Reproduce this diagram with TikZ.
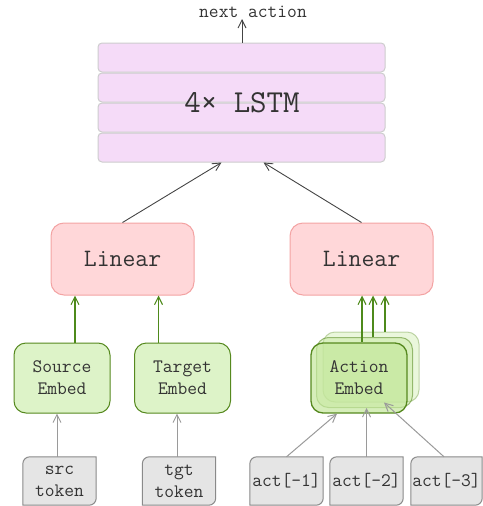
\documentclass[tikz,border=0pt]{standalone}
\usepackage{fontspec}
\usetikzlibrary{arrows.meta}
\pgfdeclarelayer{background}
\pgfsetlayers{background,main}

\definecolor{lstmfill}{HTML}{F5DBF8}
\definecolor{lstmline}{HTML}{CDCDCD}
\definecolor{linfill}{HTML}{FFD7D9}
\definecolor{linline}{HTML}{F3A3A3}
\definecolor{embfill}{HTML}{DDF3C8}
\definecolor{embline}{HTML}{56891F}
\definecolor{actfill}{HTML}{C4E79C}
\definecolor{tokfill}{HTML}{E5E5E5}
\definecolor{tokline}{HTML}{8A8A8A}
\definecolor{txtcol}{HTML}{333333}
\definecolor{greyarrow}{HTML}{9A9A9A}
\definecolor{greenarrow}{HTML}{4E8A1B}
\definecolor{darkarrow}{HTML}{444444}

\newcommand\fontlstm{\ttfamily\fontsize{32}{36}\selectfont}
\newcommand\fontlin{\ttfamily\fontsize{25}{28}\selectfont}
\newcommand\fontsmall{\ttfamily\fontsize{19}{22}\selectfont}

% token boxes: rounded top-left and bottom-right corners only
\newcommand\tokenframe[1]{%
  \begin{pgfonlayer}{background}
  \filldraw[tokframe] ([xshift=7pt]#1.north west) -- (#1.north east)
    -- ([yshift=7pt]#1.south east) arc[start angle=0,end angle=-90,radius=7pt]
    -- (#1.south west) -- ([yshift=-7pt]#1.north west)
    arc[start angle=180,end angle=90,radius=7pt] -- cycle;
  \end{pgfonlayer}}

\begin{document}
\begin{tikzpicture}[x=1pt,y=-1pt,
  every node/.style={text=txtcol, inner sep=0pt},
  lstmlayer/.style={draw=lstmline, fill=lstmfill, line width=1pt,
    rounded corners=4pt, minimum width=287pt, minimum height=29pt},
  linbox/.style={draw=linline, fill=linfill, line width=1pt,
    rounded corners=13pt, minimum width=143pt, minimum height=72pt, font=\fontlin},
  embbox/.style={draw=embline, fill=embfill, line width=1pt,
    rounded corners=12pt, minimum width=96pt, minimum height=70pt,
    align=center, font=\fontsmall},
  actbox/.style={draw=embline, fill=actfill, rounded corners=12pt,
    minimum width=96pt, minimum height=70pt, align=center, font=\fontsmall},
  tokbox/.style={minimum width=73pt, minimum height=48pt, align=center, font=\fontsmall},
  tokframe/.style={draw=tokline, fill=tokfill, line width=1pt},
  tipopen/.style={-{Straight Barb[length=8pt,width=8pt]}},
  greyconn/.style={tipopen, draw=greyarrow, line width=1pt},
  greenconn/.style={tipopen, draw=greenarrow, line width=1.1pt},
  darkconn/.style={tipopen, draw=darkarrow, line width=0.9pt}
]
\useasboundingbox (0,0) rectangle (482,506);

% stacked LSTM layers
\node[lstmlayer] (l1) at (241.5,57.5) {};
\node[lstmlayer] (l2) at (241.5,87.5) {};
\node[lstmlayer] (l3) at (241.5,117.5) {};
\node[lstmlayer] (l4) at (241.5,147.5) {};
\node[font=\fontlstm] (lstm) at (242,103) {4× LSTM};

% output
\node[font=\fontsmall, anchor=base] (next) at (253,17) {next action};
\coordinate (nexttip) at (242,19);
\draw[darkconn] (l1.north -| nexttip) -- (nexttip);

% linear projections
\node[linbox] (lin1) at (122.5,259) {Linear};
\node[linbox] (lin2) at (361.5,259) {Linear};
\draw[darkconn] (lin1.north) -- ([xshift=-20pt]l4.south);
\draw[darkconn] (lin2.north) -- ([xshift=22pt]l4.south);

% embeddings
\node[embbox] (srcemb) at (62,378) {Source\\Embed};
\node[embbox] (tgtemb) at (182.5,378) {Target\\Embed};

\node[actbox, draw opacity=0.35, fill opacity=0.35, line width=1pt] (ae3) at (371,367) {};
\node[actbox, draw opacity=0.55, fill opacity=0.45, line width=1pt] (ae2) at (364.5,372.5) {};
\node[actbox, fill opacity=0.7, text opacity=1, line width=1.3pt] (ae1) at (359,378) {Action\\Embed};

\draw[greenconn] ([xshift=13pt]srcemb.north) -- ([xshift=13pt]srcemb.north |- lin1.south);
\draw[greenconn] ([xshift=-24pt]tgtemb.north) -- ([xshift=-24pt]tgtemb.north |- lin1.south);
\draw[greenconn] ([xshift=3pt]ae1.north) -- ([xshift=3pt]ae1.north |- lin2.south);
\draw[greenconn] ([xshift=8.5pt]ae2.north) -- ([xshift=8.5pt]ae2.north |- lin2.south);
\draw[greenconn] ([xshift=14pt]ae3.north) -- ([xshift=14pt]ae3.north |- lin2.south);

% input tokens
\node[tokbox] (srctok) at (59.5,481) {src\\token};
\node[tokbox] (tgttok) at (179,481) {tgt\\token};
\node[tokbox] (act1) at (286.5,481) {act[-1]};
\node[tokbox] (act2) at (366.5,481) {act[-2]};
\node[tokbox, minimum width=71pt] (act3) at (446.5,481) {act[-3]};
\tokenframe{srctok}
\tokenframe{tgttok}
\tokenframe{act1}
\tokenframe{act2}
\tokenframe{act3}

\draw[greyconn] ([xshift=-2.5pt]srctok.north) -- ([xshift=-2.5pt]srctok.north |- srcemb.south);
\draw[greyconn] ([xshift=-2pt]tgttok.north) -- ([xshift=-2pt]tgttok.north |- tgtemb.south);
\draw[greyconn] (act1.north) -- ([xshift=-22pt]ae1.south);
\draw[greyconn] (act2.north) -- (act2.north |- ae2.south);
\draw[greyconn] ([xshift=-2.5pt]act3.north) -- ([xshift=13pt]ae3.south);
\end{tikzpicture}
\end{document}
